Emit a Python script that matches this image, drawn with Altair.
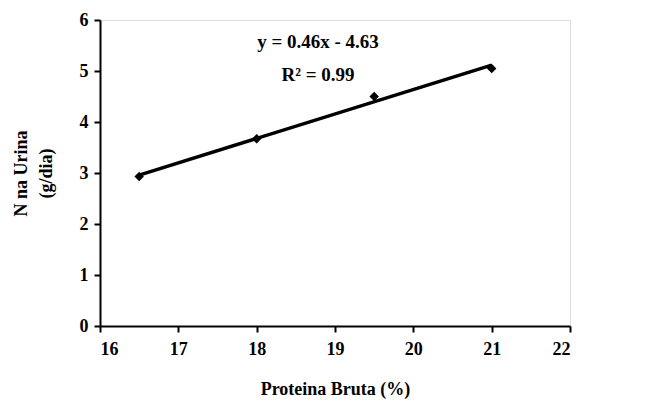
import altair as alt
import pandas as pd

proteina = [16.5, 18.0, 19.5, 21.0]
n_urina = [2.93, 3.67, 4.50, 5.05]
eq_text = "y = 0.46x - 4.63"
r2_text = "R² = 0.99"

df = pd.DataFrame({"x": proteina, "y": n_urina})
font = "Liberation Serif"

xs = alt.Scale(domain=[16, 22], nice=False, zero=False)
ys = alt.Scale(domain=[0, 6], nice=False)

common = dict(grid=False, domainColor="black", domainWidth=2, tickColor="black", tickWidth=2,
              tickSize=6, labelFont=font, labelFontWeight="bold", labelFontSize=18,
              labelColor="black", titleFont=font, titleFontWeight="bold", titleFontSize=18,
              titleColor="black", format="d")
xax = alt.Axis(values=[16, 17, 18, 19, 20, 21, 22], labelPadding=8, titlePadding=22, **common)
yax = alt.Axis(values=[0, 1, 2, 3, 4, 5, 6], labelPadding=6, titlePadding=24,
               titleLineHeight=25, **common)

base = alt.Chart(df)

pts = base.mark_point(shape="diamond", filled=True, color="black", size=90, opacity=1).encode(
    x=alt.X("x:Q", scale=xs, axis=xax, title="Proteina Bruta (%)"),
    y=alt.Y("y:Q", scale=ys, axis=yax, title=["N na Urina", "(g/dia)"]),
)

line = base.transform_regression("x", "y").mark_line(color="black", strokeWidth=3.5).encode(
    x=alt.X("x:Q", scale=xs), y=alt.Y("y:Q", scale=ys)
)

txt_style = dict(font=font, fontWeight="bold", fontSize=19, color="black",
                 align="center", baseline="middle")
eq = alt.Chart(pd.DataFrame({"t": [eq_text]})).mark_text(**txt_style).encode(
    text="t:N", x=alt.value(218), y=alt.value(22))
r2 = alt.Chart(pd.DataFrame({"t": [r2_text]})).mark_text(**txt_style).encode(
    text="t:N", x=alt.value(218), y=alt.value(55))

chart = alt.layer(pts, line, eq, r2).properties(
    width=470, height=306,
    padding={"left": 92, "top": 12, "right": 86, "bottom": 85},
    autosize=alt.AutoSizeParams(type="none"),
).configure_view(stroke=None).configure(background="white")

chart.save("out.html", embed_options={"renderer": "svg", "actions": False})
